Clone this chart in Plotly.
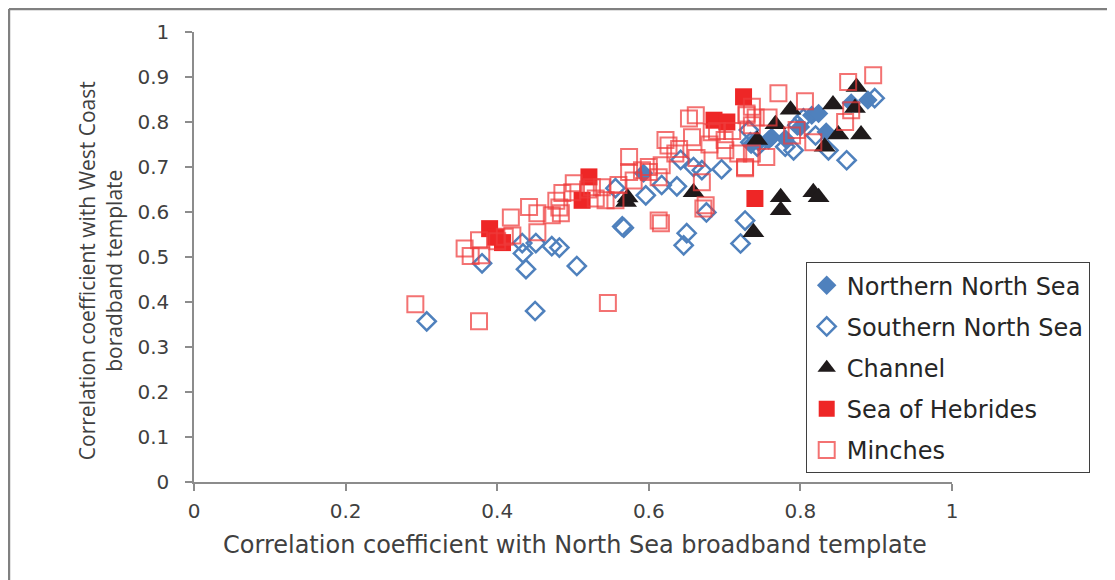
import plotly.graph_objects as go

# ---- data ----
nns_x = [0.593, 0.735, 0.745, 0.762, 0.780, 0.758, 0.800, 0.815, 0.824, 0.834, 0.867, 0.889]
nns_y = [0.686, 0.750, 0.755, 0.766, 0.763, 0.760, 0.789, 0.815, 0.819, 0.778, 0.842, 0.849]

sns_x = [0.307, 0.380, 0.433, 0.434, 0.438, 0.451, 0.450, 0.472, 0.482, 0.505, 0.556, 0.565,
         0.567, 0.596, 0.617, 0.637, 0.642, 0.659, 0.670, 0.696, 0.676, 0.650, 0.646, 0.727,
         0.721, 0.734, 0.732, 0.743, 0.780, 0.791, 0.796, 0.804, 0.837, 0.861, 0.898, 0.820]
sns_y = [0.357, 0.486, 0.531, 0.508, 0.473, 0.531, 0.380, 0.524, 0.521, 0.480, 0.653, 0.568,
         0.565, 0.637, 0.660, 0.657, 0.716, 0.700, 0.693, 0.695, 0.599, 0.553, 0.526, 0.581,
         0.530, 0.755, 0.782, 0.745, 0.745, 0.737, 0.793, 0.808, 0.737, 0.715, 0.853, 0.770]

ch_x = [0.570, 0.572, 0.659, 0.738, 0.743, 0.767, 0.787, 0.774, 0.774, 0.817, 0.824, 0.832,
        0.843, 0.850, 0.872, 0.874, 0.880]
ch_y = [0.622, 0.632, 0.644, 0.555, 0.760, 0.795, 0.827, 0.633, 0.604, 0.644, 0.633, 0.745,
        0.839, 0.772, 0.831, 0.878, 0.772]

heb_x = [0.390, 0.398, 0.407, 0.512, 0.521, 0.686, 0.703, 0.725, 0.740]
heb_y = [0.563, 0.544, 0.532, 0.626, 0.678, 0.804, 0.800, 0.856, 0.630]

min_x = [0.292, 0.376, 0.546, 0.357, 0.365, 0.379, 0.376, 0.400, 0.410, 0.420, 0.418, 0.442,
         0.453, 0.453, 0.472, 0.484, 0.478, 0.486, 0.499, 0.501, 0.482, 0.520, 0.525, 0.530,
         0.538, 0.543, 0.556, 0.560, 0.574, 0.574, 0.580, 0.591, 0.600, 0.600, 0.613, 0.617,
         0.622, 0.626, 0.635, 0.640, 0.653, 0.662, 0.657, 0.663, 0.670, 0.613, 0.616, 0.672,
         0.675, 0.680, 0.683, 0.690, 0.700, 0.701, 0.710, 0.718, 0.727, 0.729, 0.736, 0.741,
         0.771, 0.806, 0.863, 0.896, 0.867, 0.859, 0.795, 0.789, 0.817, 0.736, 0.729, 0.758,
         0.755, 0.736, 0.727]
min_y = [0.395, 0.357, 0.398, 0.519, 0.502, 0.504, 0.537, 0.535, 0.545, 0.548, 0.588, 0.611,
         0.597, 0.555, 0.593, 0.597, 0.625, 0.642, 0.644, 0.664, 0.610, 0.650, 0.655, 0.630,
         0.655, 0.626, 0.626, 0.660, 0.722, 0.689, 0.670, 0.693, 0.689, 0.700, 0.677, 0.704,
         0.760, 0.748, 0.730, 0.740, 0.808, 0.815, 0.766, 0.720, 0.666, 0.581, 0.575, 0.608,
         0.615, 0.750, 0.777, 0.780, 0.760, 0.737, 0.780, 0.730, 0.700, 0.819, 0.793, 0.810,
         0.864, 0.846, 0.889, 0.904, 0.826, 0.800, 0.782, 0.770, 0.755, 0.834, 0.815, 0.810,
         0.722, 0.730, 0.697]

names = ["Northern North Sea", "Southern North Sea", "Channel", "Sea of Hebrides", "Minches"]

BLUE = "#4F81BD"
RED = "#EE2626"
RED_OPEN = "rgba(238,60,60,0.72)"
BLACK = "#1F1A1B"

fig = go.Figure()
fig.add_trace(go.Scatter(x=nns_x, y=nns_y, mode="markers", name=names[0], legendgroup="a",
                         marker=dict(symbol="diamond", size=15, color=BLUE, line=dict(width=0))))
fig.add_trace(go.Scatter(x=sns_x, y=sns_y, mode="markers", name=names[1], legendgroup="b",
                         marker=dict(symbol="diamond-open", size=14, color=BLUE, line=dict(width=2.5, color=BLUE))))
fig.add_trace(go.Scatter(x=ch_x, y=ch_y, mode="markers", name=names[2], legendgroup="c",
                         marker=dict(symbol="triangle-up", size=19, color=BLACK, line=dict(width=0))))
fig.add_trace(go.Scatter(x=heb_x, y=heb_y, mode="markers", name=names[3], legendgroup="d",
                         marker=dict(symbol="square", size=17, color=RED, line=dict(width=0))))
fig.add_trace(go.Scatter(x=min_x, y=min_y, mode="markers", name=names[4], legendgroup="e",
                         marker=dict(symbol="square-open", size=16, color=RED_OPEN, line=dict(width=2, color=RED_OPEN))))

HFONT = "DejaVu Sans"
axis_common = dict(showgrid=False, zeroline=False, showline=True, linecolor="#8C8C8C", linewidth=1.5,
                   ticks="outside", ticklen=7, tickcolor="#8C8C8C", tickwidth=1.5,
                   tickfont=dict(family=HFONT, size=20, color="#404040"))

fig.update_layout(
    width=1115, height=580,
    margin=dict(l=186, r=171, t=24, b=106),
    paper_bgcolor="white", plot_bgcolor="white",
    showlegend=True,
    xaxis=dict(range=[0, 1], dtick=0.2, tick0=0, ticklabelstandoff=3, **axis_common),
    yaxis=dict(range=[0, 1], dtick=0.1, tick0=0, ticklabelstandoff=12, **axis_common),
    legend=dict(x=0.807, y=0.4886, xanchor="left", yanchor="top",
                bordercolor="#3F3F3F", borderwidth=1, bgcolor="white",
                font=dict(family=HFONT, size=24, color="#262626"),
                tracegroupgap=7, itemwidth=30),
    annotations=[
        dict(text="Correlation coefficient with North Sea broadband template",
             x=0.5026, y=-0.1408, xref="paper", yref="paper", showarrow=False,
             xanchor="center", yanchor="middle",
             font=dict(family=HFONT, size=24, color="#404040")),
        dict(text="Correlation coefficient with West Coast<br>boradband template",
             x=-0.124, y=0.4685, xref="paper", yref="paper", showarrow=False,
             textangle=-90, xanchor="center", yanchor="middle",
             font=dict(family="Open Sans", size=21, color="#404040")),
    ],
    shapes=[
        dict(type="line", xref="paper", yref="paper", x0=-0.2441, x1=1.3, y0=1.051, y1=1.051,
             line=dict(color="#808080", width=2.5)),
        dict(type="line", xref="paper", yref="paper", x0=-0.2441, x1=-0.2441, y0=-0.3, y1=1.051,
             line=dict(color="#808080", width=2.5)),
    ],
)

fig.write_html("out.html")
